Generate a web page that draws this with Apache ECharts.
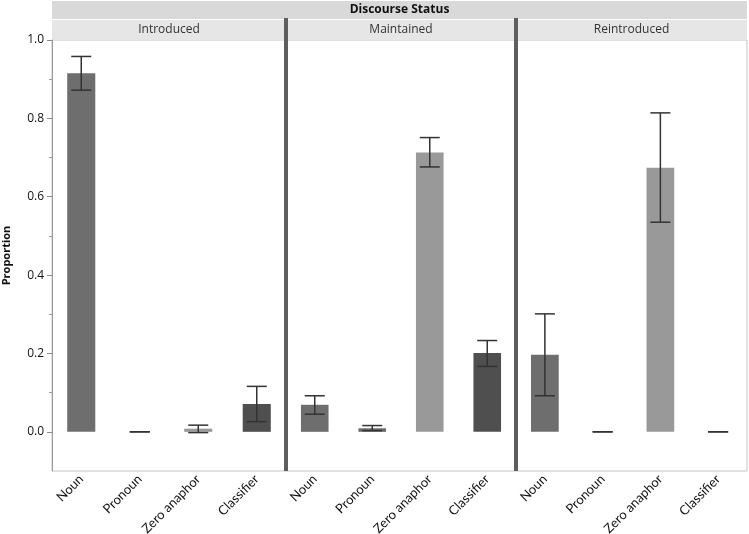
<!DOCTYPE html>
<html>
<head>
<meta charset="utf-8">
<script src="https://cdn.jsdelivr.net/npm/echarts@6/dist/echarts.min.js"></script>
<style>
  html, body { margin: 0; padding: 0; background: #fff; }
  #chart { width: 749px; height: 534px; }
</style>
</head>
<body>
<div id="chart"></div>
<script>
// data
const categories = ["Noun", "Pronoun", "Zero anaphor", "Classifier"];
const panels = ["Introduced", "Maintained", "Reintroduced"];
const barColors = ["#6e6e6e", "#6a6a6a", "#999999", "#4f4f4f"];

const introducedMean = [0.915, 0.0, 0.008, 0.071];
const introducedLow = [0.872, 0.0, -0.002, 0.026];
const introducedHigh = [0.958, 0.0, 0.017, 0.116];

const maintainedMean = [0.069, 0.009, 0.713, 0.201];
const maintainedLow = [0.045, 0.003, 0.676, 0.167];
const maintainedHigh = [0.092, 0.016, 0.751, 0.233];

const reintroducedMean = [0.197, 0.0, 0.674, 0.0];
const reintroducedLow = [0.092, 0.0, 0.535, 0.0];
const reintroducedHigh = [0.301, 0.0, 0.814, 0.0];

const majorTicks = [0, 0.2, 0.4, 0.6, 0.8, 1.0];
const minorTicks = [0.1, 0.3, 0.5, 0.7, 0.9];

const means = [introducedMean, maintainedMean, reintroducedMean];
const lows = [introducedLow, maintainedLow, reintroducedLow];
const highs = [introducedHigh, maintainedHigh, reintroducedHigh];

// layout
const plotLeft = 52, plotRight = 747, plotTop = 40, plotBottom = 471;
const edges = [52, 286, 516, 747];
const font = "'Open Sans', 'Noto Sans', sans-serif";
const tickFont = "Lato, 'Open Sans', sans-serif";

const chart = echarts.init(document.getElementById("chart"));

const grids = [], xAxes = [], yAxes = [], series = [];
panels.forEach((p, i) => {
  grids.push({
    left: edges[i], top: plotTop,
    width: edges[i + 1] - edges[i], height: plotBottom - plotTop,
    outerBoundsMode: "none", containLabel: false,
    show: true, borderColor: "#c4c4c4", borderWidth: 1
  });
  xAxes.push({
    type: "category", gridIndex: i, data: categories,
    axisLine: { show: false },
    axisTick: { show: false },
    axisLabel: {
      rotate: 45, interval: 0, fontSize: 13, color: "#111",
      fontFamily: tickFont, margin: 6
    }
  });
  yAxes.push({
    type: "value", gridIndex: i, min: -0.1, max: 1.0, position: "left",
    splitLine: { show: false },
    axisLine: { show: i === 0, lineStyle: { color: "#9a9a9a" } },
    axisTick: { show: i === 0, customValues: majorTicks, length: 5, lineStyle: { color: "#8a8a8a" } },
    axisLabel: {
      show: i === 0, customValues: majorTicks, fontSize: 12, color: "#111",
      fontFamily: font, margin: 8,
      formatter: v => v.toFixed(1)
    },
    name: i === 0 ? "Proportion" : "",
    nameLocation: "middle", nameGap: 40,
    nameTextStyle: { fontSize: 11, fontWeight: "bold", color: "#111", fontFamily: font }
  });

  series.push({
    type: "bar", xAxisIndex: i, yAxisIndex: i,
    barWidth: "48%",
    data: means[i].map((v, k) => ({ value: v, itemStyle: { color: barColors[k] } })),
    silent: true
  });
  series.push({
    type: "custom", xAxisIndex: i, yAxisIndex: i,
    data: categories.map((c, k) => [k, lows[i][k], highs[i][k]]),
    renderItem: (params, api) => {
      const lo = api.coord([api.value(0), api.value(1)]);
      const hi = api.coord([api.value(0), api.value(2)]);
      const half = 10;
      const style = { stroke: "#333", lineWidth: 1.5 };
      return {
        type: "group",
        children: [
          { type: "line", shape: { x1: hi[0], y1: hi[1], x2: lo[0], y2: lo[1] }, style },
          { type: "line", shape: { x1: hi[0] - half, y1: hi[1], x2: hi[0] + half, y2: hi[1] }, style },
          { type: "line", shape: { x1: lo[0] - half, y1: lo[1], x2: lo[0] + half, y2: lo[1] }, style }
        ]
      };
    },
    z: 5
  });
});

// minor ticks on the left axis
yAxes.push({
  type: "value", gridIndex: 0, min: -0.1, max: 1.0, position: "left", offset: 0,
  splitLine: { show: false }, axisLine: { show: false },
  axisLabel: { show: false },
  axisTick: { show: true, customValues: minorTicks, length: 3, lineStyle: { color: "#9a9a9a" } }
});

// strips and dividers
const graphic = [
  {
    type: "rect", shape: { x: plotLeft, y: 1, width: plotRight - plotLeft, height: 18 },
    style: { fill: "#d9d9d9" }
  },
  {
    type: "text", x: (plotLeft + plotRight) / 2, y: 10,
    style: { text: "Discourse Status", font: "bold 12px " + font, fill: "#111", align: "center", verticalAlign: "middle" }
  }
];
panels.forEach((p, i) => {
  graphic.push({
    type: "rect", shape: { x: edges[i], y: 20, width: edges[i + 1] - edges[i], height: 20 },
    style: { fill: "#e6e6e6" }
  });
  graphic.push({
    type: "text", x: (edges[i] + edges[i + 1]) / 2, y: 30,
    style: { text: p, font: "12px " + font, fill: "#333", align: "center", verticalAlign: "middle" }
  });
});
[286, 516].forEach(x => {
  graphic.push({
    type: "rect", shape: { x: x - 2, y: 18, width: 4, height: plotBottom - 18 },
    style: { fill: "#5e5e5e" }, z: 10
  });
});

chart.setOption({
  animation: false,
  backgroundColor: "#fff",
  grid: grids,
  xAxis: xAxes,
  yAxis: yAxes,
  series: series,
  graphic: graphic
});
</script>
</body>
</html>
